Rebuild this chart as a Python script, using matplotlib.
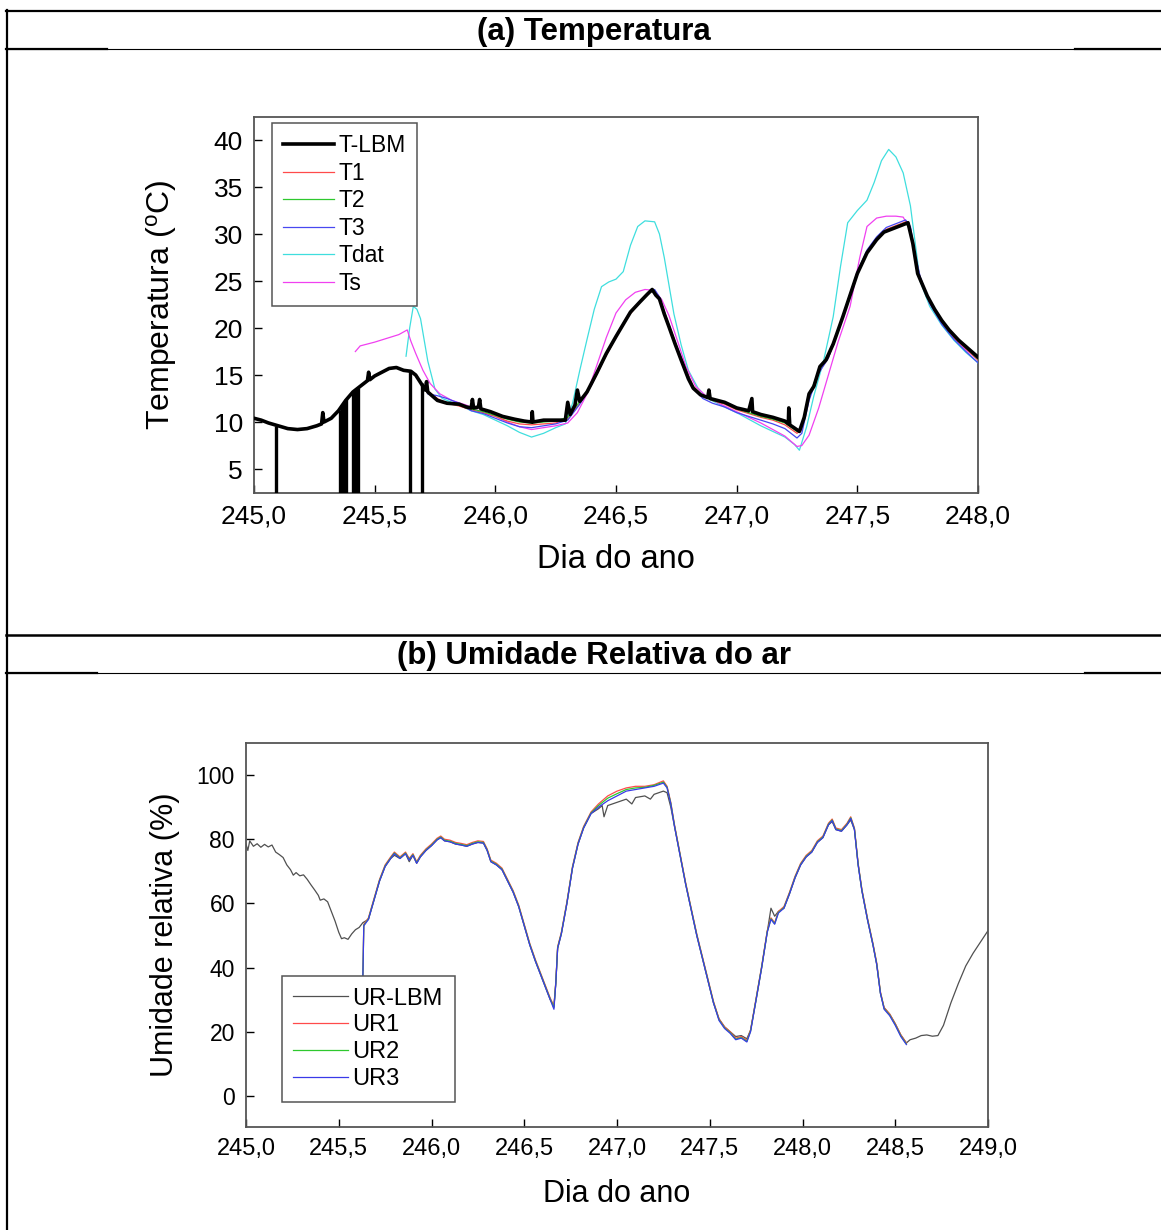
import matplotlib
matplotlib.use('Agg')
import matplotlib.pyplot as plt
from matplotlib.lines import Line2D
from matplotlib.ticker import FuncFormatter, MultipleLocator

plt.rcParams['font.family'] = ['Liberation Sans', 'DejaVu Sans']
plt.rcParams['mathtext.fontset'] = 'custom'
plt.rcParams['mathtext.rm'] = 'Liberation Sans'

# ── (a) Temperatura ──────────────────────────────────────────────
days_lbm = [245.00, 245.03, 245.06, 245.10, 245.14, 245.18, 245.22, 245.26, 245.28, 245.285,
            245.29, 245.32, 245.35, 245.38, 245.41, 245.44, 245.47, 245.475, 245.48, 245.50,
            245.53, 245.56, 245.59, 245.62, 245.65, 245.67, 245.69, 245.71, 245.715, 245.72,
            245.76, 245.80, 245.85, 245.88, 245.90, 245.905, 245.91, 245.93, 245.935, 245.94,
            245.98, 246.03, 246.08, 246.12, 246.15, 246.153, 246.156, 246.20, 246.25, 246.29,
            246.30, 246.31, 246.33, 246.34, 246.35, 246.38, 246.42, 246.46, 246.50, 246.53,
            246.56, 246.60, 246.63, 246.65, 246.665, 246.68, 246.70, 246.72, 246.745, 246.77,
            246.80, 246.82, 246.85, 246.88, 246.885, 246.89, 246.95, 247.00, 247.05, 247.063,
            247.066, 247.10, 247.15, 247.20, 247.214, 247.216, 247.22, 247.26, 247.28, 247.30,
            247.32, 247.345, 247.37, 247.40, 247.44, 247.47, 247.50, 247.54, 247.58, 247.61,
            247.65, 247.69, 247.71, 247.73, 247.75, 247.77, 247.79, 247.82, 247.85, 247.88,
            247.92, 247.96, 248.00]
temp_lbm = [10.4, 10.2, 9.9, 9.6, 9.3, 9.2, 9.3, 9.6, 9.8, 11.0,
            10.0, 10.4, 11.2, 12.3, 13.2, 13.8, 14.4, 15.3, 14.5, 14.9,
            15.3, 15.7, 15.8, 15.5, 15.4, 15.0, 14.2, 13.4, 14.3, 13.2,
            12.3, 12.0, 11.9, 11.6, 11.5, 12.4, 11.5, 11.6, 12.4, 11.4,
            11.1, 10.6, 10.3, 10.1, 10.0, 11.1, 10.0, 10.2, 10.2, 10.2,
            12.1, 10.8, 11.8, 13.4, 12.2, 13.2, 15.2, 17.3, 19.1, 20.4,
            21.7, 22.8, 23.6, 24.1, 23.5, 23.1, 21.5, 20.1, 18.3, 16.6,
            14.6, 13.6, 12.9, 12.6, 13.4, 12.5, 12.1, 11.5, 11.2, 12.5,
            11.1, 10.8, 10.5, 10.1, 9.8, 11.5, 9.7, 9.0, 10.5, 13.0,
            13.8, 15.9, 16.6, 18.3, 21.2, 23.5, 25.8, 28.0, 29.4, 30.2,
            30.6, 31.0, 31.2, 29.0, 25.8, 24.6, 23.4, 22.0, 20.8, 19.8,
            18.7, 17.8, 16.9]

# quedas do T-LBM (falhas de leitura que descem abaixo do eixo)
spike_days = [245.093, 245.355, 245.365, 245.375, 245.382, 245.41, 245.42, 245.43, 245.645, 245.695]
spike_top = [9.6, 11.3, 11.8, 12.2, 12.4, 13.2, 13.4, 13.6, 15.4, 14.1]

days_t = [245.72, 245.76, 245.80, 245.85, 245.90, 245.95, 246.00, 246.05, 246.10, 246.15,
          246.20, 246.25, 246.30, 246.35, 246.40, 246.45, 246.50, 246.55, 246.60, 246.64,
          246.66, 246.68, 246.70, 246.72, 246.75, 246.78, 246.82, 246.86, 246.90, 246.95,
          247.00, 247.05, 247.10, 247.15, 247.20, 247.25, 247.27, 247.30, 247.34, 247.38,
          247.42, 247.46, 247.50, 247.54, 247.58, 247.62, 247.66, 247.70, 247.72, 247.74,
          247.76, 247.80, 247.85, 247.90, 247.95, 248.00]
temp_t1 = [13.3, 12.5, 12.0, 11.7, 11.3, 11.0, 10.6, 10.1, 9.8, 9.7,
           9.8, 9.9, 10.3, 12.0, 14.0, 16.6, 19.0, 21.2, 22.8, 23.8,
           24.0, 23.2, 21.7, 20.3, 18.1, 16.2, 13.8, 12.8, 12.3, 11.9,
           11.3, 10.9, 10.5, 10.2, 9.7, 8.8, 9.2, 12.6, 15.3, 16.8,
           19.6, 22.7, 25.7, 28.0, 29.5, 30.5, 30.9, 31.3, 30.6, 27.6,
           25.4, 22.7, 20.6, 19.0, 17.8, 16.6]
temp_t2 = [13.2, 12.4, 12.0, 11.8, 11.4, 11.1, 10.7, 10.3, 10.0, 9.9,
           10.0, 10.1, 10.5, 12.2, 14.1, 16.7, 19.0, 21.3, 22.8, 23.8,
           24.0, 23.1, 21.6, 20.2, 18.0, 16.1, 13.7, 12.8, 12.3, 12.0,
           11.4, 11.0, 10.6, 10.3, 9.9, 9.0, 9.4, 12.8, 15.4, 16.9,
           19.7, 22.7, 25.7, 28.0, 29.4, 30.4, 30.8, 31.2, 30.4, 27.4,
           25.3, 22.7, 20.7, 19.1, 17.9, 16.7]
temp_t3 = [13.0, 12.8, 12.5, 12.0, 11.2, 10.9, 10.4, 9.9, 9.5, 9.4,
           9.6, 9.8, 10.2, 11.9, 14.0, 16.7, 19.2, 21.4, 22.9, 23.9,
           24.1, 23.3, 21.8, 20.3, 18.2, 16.2, 13.6, 12.5, 12.0, 11.6,
           11.0, 10.6, 10.2, 9.8, 9.3, 8.3, 8.8, 12.3, 15.2, 16.8,
           19.8, 22.9, 26.0, 28.3, 29.7, 30.7, 31.1, 31.5, 30.8, 27.8,
           25.5, 22.6, 20.4, 18.8, 17.5, 16.3]

days_tdat = [245.63, 245.645, 245.66, 245.675, 245.69, 245.72, 245.75, 245.78, 245.85, 245.90,
             245.95, 246.00, 246.05, 246.10, 246.15, 246.20, 246.25, 246.29, 246.32, 246.35,
             246.38, 246.41, 246.44, 246.47, 246.50, 246.53, 246.56, 246.59, 246.62, 246.66,
             246.68, 246.70, 246.72, 246.74, 246.77, 246.80, 246.84, 246.88, 246.95, 247.00,
             247.05, 247.10, 247.15, 247.20, 247.24, 247.26, 247.29, 247.32, 247.36, 247.40,
             247.43, 247.46, 247.50, 247.54, 247.57, 247.60, 247.63, 247.66, 247.69, 247.72,
             247.74, 247.76, 247.80, 247.85, 247.90, 247.95, 248.00]
temp_tdat = [17.0, 20.0, 22.3, 22.0, 21.0, 16.5, 13.5, 12.5, 11.8, 11.2,
             10.8, 10.2, 9.6, 8.9, 8.4, 8.8, 9.4, 9.8, 12.0, 15.5,
             18.8, 22.0, 24.4, 24.9, 25.2, 26.0, 28.8, 30.8, 31.4, 31.3,
             30.0, 27.5, 24.5, 21.5, 18.2, 15.5, 13.6, 12.5, 11.6, 11.0,
             10.3, 9.6, 9.0, 8.4, 7.6, 7.0, 9.5, 12.8, 16.5, 21.2,
             26.5, 31.2, 32.5, 33.6, 35.5, 37.8, 39.0, 38.2, 36.5, 33.0,
             29.0, 25.0, 22.3, 20.3, 18.7, 17.4, 16.3]

days_ts = [245.42, 245.44, 245.47, 245.50, 245.55, 245.60, 245.635, 245.65, 245.67, 245.70,
           245.73, 245.77, 245.82, 245.88, 245.95, 246.00, 246.05, 246.10, 246.15, 246.20,
           246.25, 246.30, 246.34, 246.38, 246.42, 246.46, 246.50, 246.54, 246.58, 246.62,
           246.66, 246.69, 246.72, 246.75, 246.79, 246.83, 246.88, 246.95, 247.00, 247.05,
           247.10, 247.15, 247.20, 247.25, 247.27, 247.30, 247.34, 247.38, 247.42, 247.47,
           247.51, 247.54, 247.58, 247.62, 247.66, 247.69, 247.72, 247.74, 247.76, 247.80,
           247.85, 247.90, 247.95, 248.00]
temp_ts = [17.5, 18.1, 18.3, 18.5, 18.9, 19.3, 19.8, 18.6, 17.3, 15.5,
           14.1, 13.0, 12.3, 11.8, 11.0, 10.6, 10.0, 9.5, 9.2, 9.4,
           9.6, 9.9, 11.0, 13.0, 16.0, 19.0, 21.6, 23.0, 23.8, 24.1,
           24.0, 23.0, 21.3, 19.0, 15.9, 13.8, 12.6, 11.7, 11.1, 10.5,
           9.9, 9.2, 8.5, 7.4, 7.5, 8.6, 11.5, 15.0, 18.5, 22.3,
           27.5, 30.8, 31.7, 31.9, 31.9, 31.8, 30.4, 27.5, 25.2, 22.6,
           20.6, 19.0, 17.7, 16.6]

temp_labels = ['T-LBM', 'T1', 'T2', 'T3', 'Tdat', 'Ts']

# ── (b) Umidade relativa ─────────────────────────────────────────
days_ur_lbm = [245.00, 245.01, 245.02, 245.04, 245.06, 245.08, 245.10, 245.12, 245.14, 245.16,
               245.18, 245.20, 245.22, 245.24, 245.255, 245.27, 245.29, 245.31, 245.33, 245.35,
               245.37, 245.39, 245.40, 245.42, 245.44, 245.46, 245.48, 245.50, 245.515, 245.53,
               245.55, 245.57, 245.59, 245.61, 245.63, 245.66, 245.69, 245.72, 245.75, 245.78,
               245.80, 245.83, 245.86, 245.88, 245.90, 245.92, 245.94, 245.97, 246.00, 246.03,
               246.05, 246.07, 246.10, 246.13, 246.16, 246.19, 246.22, 246.25, 246.28, 246.30,
               246.32, 246.35, 246.38, 246.41, 246.44, 246.47, 246.50, 246.53, 246.56, 246.59,
               246.62, 246.64, 246.66, 246.67, 246.68, 246.70, 246.73, 246.76, 246.79, 246.82,
               246.86, 246.90, 246.92, 246.93, 246.95, 247.00, 247.05, 247.08, 247.10, 247.15,
               247.18, 247.20, 247.25, 247.27, 247.29, 247.31, 247.34, 247.37, 247.40, 247.43,
               247.46, 247.49, 247.52, 247.55, 247.58, 247.61, 247.64, 247.67, 247.70, 247.72,
               247.75, 247.78, 247.81, 247.83, 247.85, 247.87, 247.90, 247.93, 247.96, 247.99,
               248.02, 248.05, 248.08, 248.11, 248.14, 248.16, 248.18, 248.21, 248.24, 248.26,
               248.28, 248.30, 248.32, 248.35, 248.38, 248.40, 248.42, 248.44, 248.47, 248.50,
               248.53, 248.56, 248.58, 248.61, 248.64, 248.67, 248.70, 248.73, 248.76, 248.80,
               248.84, 248.88, 248.92, 248.96, 249.00]
rh_lbm = [78.5, 76.5, 79.5, 77.8, 78.6, 77.5, 78.4, 77.6, 78.2, 76.0,
          75.2, 74.3, 72.0, 70.5, 68.8, 69.6, 68.6, 68.9, 67.5, 65.8,
          64.2, 62.5, 61.0, 61.4, 60.5, 57.5, 54.5, 51.0, 49.0, 49.3,
          48.8, 50.5, 51.8, 52.5, 54.0, 55.0, 61.0, 67.0, 71.5, 74.0,
          75.0, 74.0, 75.5, 73.0, 75.0, 72.5, 74.5, 76.5, 78.0, 79.8,
          80.5, 79.5, 79.2, 78.5, 78.2, 77.8, 78.5, 79.0, 78.8, 76.5,
          73.0, 72.0, 70.5, 67.0, 63.5, 59.0, 53.0, 47.0, 42.0, 37.5,
          33.0, 30.0, 28.0, 35.0, 46.0, 50.5, 60.0, 71.0, 78.5, 83.5,
          88.0, 89.5, 90.5, 87.0, 90.5, 91.5, 92.5, 91.0, 93.0, 93.5,
          92.5, 94.0, 95.0, 94.5, 90.0, 84.0, 75.0, 66.0, 58.0, 50.0,
          43.0, 36.0, 29.0, 24.0, 21.5, 20.0, 18.5, 18.8, 17.8, 20.5,
          30.0, 40.0, 51.0, 58.5, 56.0, 57.5, 58.5, 63.0, 68.0, 72.0,
          74.5, 76.0, 79.0, 80.5, 84.5, 85.5, 83.0, 82.5, 84.5, 86.0,
          83.0, 72.0, 64.0, 55.0, 47.0, 41.0, 32.0, 27.5, 25.5, 22.5,
          19.0, 16.5, 17.5, 18.0, 18.8, 19.0, 18.6, 18.8, 22.0, 29.0,
          35.0, 40.5, 44.5, 48.0, 51.5]

days_ur = [245.630, 245.635, 245.66, 245.69, 245.72, 245.75, 245.78, 245.80, 245.83, 245.86,
           245.88, 245.90, 245.92, 245.94, 245.97, 246.00, 246.03, 246.05, 246.07, 246.10,
           246.13, 246.16, 246.19, 246.22, 246.25, 246.28, 246.30, 246.32, 246.35, 246.38,
           246.41, 246.44, 246.47, 246.50, 246.53, 246.56, 246.59, 246.62, 246.64, 246.66,
           246.67, 246.68, 246.70, 246.73, 246.76, 246.79, 246.82, 246.86, 246.90, 246.95,
           247.00, 247.05, 247.10, 247.15, 247.20, 247.25, 247.27, 247.29, 247.31, 247.34,
           247.37, 247.40, 247.43, 247.46, 247.49, 247.52, 247.55, 247.58, 247.61, 247.64,
           247.67, 247.70, 247.72, 247.75, 247.78, 247.81, 247.83, 247.85, 247.87, 247.90,
           247.93, 247.96, 247.99, 248.02, 248.05, 248.08, 248.11, 248.14, 248.16, 248.18,
           248.21, 248.24, 248.26, 248.28, 248.30, 248.32, 248.35, 248.38, 248.40, 248.42,
           248.44, 248.47, 248.50, 248.53, 248.56]
rh_ur1 = [37.0, 53.5, 55.5, 61.5, 67.5, 72.0, 74.5, 76.0, 74.5, 76.0,
          74.0, 75.5, 73.0, 75.0, 77.0, 78.5, 80.3, 81.0, 80.0, 79.7,
          79.0, 78.7, 78.3, 79.0, 79.5, 79.3, 77.0, 73.5, 72.5, 71.0,
          67.5, 64.0, 59.5, 53.5, 47.5, 42.5, 38.0, 33.5, 30.5, 28.0,
          35.5, 46.5, 51.0, 60.5, 71.5, 79.0, 84.0, 88.5, 91.0, 93.5,
          95.0, 96.0, 96.5, 96.5, 97.0, 98.2, 96.5, 91.5, 84.5, 75.5,
          66.5, 58.5, 50.5, 43.5, 36.5, 29.5, 24.0, 21.5, 20.0, 18.0,
          18.5, 17.3, 20.5, 30.5, 40.5, 51.5, 55.5, 54.0, 57.5, 59.0,
          63.5, 68.5, 72.5, 75.0, 76.5, 79.5, 81.0, 85.0, 86.3, 83.5,
          83.0, 85.0, 87.0, 83.5, 72.5, 64.5, 55.5, 47.5, 41.5, 32.5,
          27.5, 25.5, 22.5, 19.0, 16.5]
rh_ur2 = [37.0, 53.2, 55.2, 61.2, 67.2, 71.7, 74.2, 75.7, 74.2, 75.7,
          73.7, 75.2, 72.7, 74.7, 76.7, 78.2, 80.0, 80.7, 79.7, 79.4,
          78.7, 78.4, 78.0, 78.7, 79.2, 79.0, 76.7, 73.2, 72.2, 70.7,
          67.2, 63.7, 59.2, 53.2, 47.2, 42.2, 37.7, 33.2, 30.2, 27.5,
          35.2, 46.2, 50.7, 60.2, 71.2, 78.7, 83.7, 88.2, 90.5, 92.8,
          94.2, 95.5, 96.0, 96.2, 96.8, 97.8, 96.2, 91.2, 84.2, 75.2,
          66.2, 58.2, 50.2, 43.2, 36.2, 29.2, 23.7, 21.2, 19.7, 17.7,
          18.2, 17.0, 20.2, 30.2, 40.2, 51.2, 55.2, 53.7, 57.2, 58.7,
          63.2, 68.2, 72.2, 74.7, 76.2, 79.2, 80.7, 84.7, 86.0, 83.2,
          82.7, 84.7, 86.7, 83.2, 72.2, 64.2, 55.2, 47.2, 41.2, 32.2,
          27.2, 25.2, 22.2, 18.7, 16.2]
rh_ur3 = [37.0, 53.0, 55.0, 61.0, 67.0, 71.5, 74.0, 75.5, 74.0, 75.5,
          73.5, 75.0, 72.5, 74.5, 76.5, 78.0, 79.8, 80.5, 79.5, 79.2,
          78.5, 78.2, 77.8, 78.5, 79.0, 78.8, 76.5, 73.0, 72.0, 70.5,
          67.0, 63.5, 59.0, 53.0, 47.0, 42.0, 37.5, 33.0, 30.0, 27.0,
          35.0, 46.0, 50.5, 60.0, 71.0, 78.5, 83.5, 88.0, 90.0, 92.0,
          93.5, 95.0, 95.5, 96.0, 96.5, 97.5, 96.0, 91.0, 84.0, 75.0,
          66.0, 58.0, 50.0, 43.0, 36.0, 29.0, 23.5, 21.0, 19.5, 17.5,
          18.0, 16.8, 20.0, 30.0, 40.0, 51.0, 55.0, 53.5, 57.0, 58.5,
          63.0, 68.0, 72.0, 74.5, 76.0, 79.0, 80.5, 84.5, 85.8, 83.0,
          82.5, 84.5, 86.5, 83.0, 72.0, 64.0, 55.0, 47.0, 41.0, 32.0,
          27.0, 25.0, 22.0, 18.5, 16.0]

rh_labels = ['UR-LBM', 'UR1', 'UR2', 'UR3']

W, H = 1161, 1230
fig = plt.figure(figsize=(W / 100, H / 100), dpi=100)


def px(x, y):
    return x / W, 1 - y / H


def hline(y, x0, x1, lw):
    (a, b), (c, d) = px(x0, y), px(x1, y)
    fig.add_artist(Line2D([a, c], [b, d], transform=fig.transFigure, color='black', lw=lw))


# moldura de tabela
hline(11, 6, W, 1.6)
hline(48.5, 6, W, 0.8)
hline(48.5, 6, 107, 1.6)
hline(48.5, 1075, W, 1.6)
hline(635, 6, W, 1.8)
hline(673, 6, W, 0.8)
hline(673, 6, 97, 1.6)
hline(673, 1085, W, 1.6)
(a, b), (c, d) = px(7, 10), px(7, H)
fig.add_artist(Line2D([a, c], [b, d], transform=fig.transFigure, color='black', lw=1.6))

fig.text(*px(594, 32), '(a) Temperatura', ha='center', va='center', fontsize=22.5, fontweight='bold')
fig.text(*px(594, 656), '(b) Umidade Relativa do ar', ha='center', va='center', fontsize=22.5, fontweight='bold')

comma = FuncFormatter(lambda v, p: f'{v:.1f}'.replace('.', ','))


def style_axes(ax, tick_fs):
    for s in ax.spines.values():
        s.set_color('#555555')
        s.set_linewidth(1.3)
    ax.tick_params(direction='in', length=6, width=1.0, color='black', labelsize=tick_fs, pad=8)
    ax.tick_params(top=False, right=False)
    ax.xaxis.set_major_locator(MultipleLocator(0.5))
    ax.xaxis.set_major_formatter(comma)


# ── painel (a)
ax1 = fig.add_axes([254 / W, 1 - 493 / H, 724 / W, 376 / H])
ax1.plot(days_lbm, temp_lbm, color='black', lw=2.6, label=temp_labels[0], zorder=6)
ax1.vlines(spike_days, 0, spike_top, color='black', lw=2.4, zorder=6)
ax1.plot(days_t, temp_t1, color='#ff4a4a', lw=0.9, label=temp_labels[1], zorder=4)
ax1.plot(days_t, temp_t2, color='#2ec82e', lw=0.9, label=temp_labels[2], zorder=4)
ax1.plot(days_t, temp_t3, color='#4848f0', lw=0.9, label=temp_labels[3], zorder=5)
ax1.plot(days_tdat, temp_tdat, color='#3fdede', lw=0.9, label=temp_labels[4], zorder=3)
ax1.plot(days_ts, temp_ts, color='#f040f0', lw=0.9, label=temp_labels[5], zorder=3)
ax1.set_xlim(245, 248)
ax1.set_ylim(2.45, 42.45)
ax1.set_yticks([5, 10, 15, 20, 25, 30, 35, 40])
style_axes(ax1, 19)
ax1.set_ylabel(r'Temperatura ($\mathregular{^o}$C)', fontsize=23)
ax1.yaxis.set_label_coords(-0.103, 0.5)
ax1.set_xlabel('Dia do ano', fontsize=23.5)
ax1.xaxis.set_label_coords(0.5, -0.135)
leg1 = ax1.legend(loc='upper left', bbox_to_anchor=(0.0245, 0.985), borderaxespad=0,
                  fontsize=16.5, labelspacing=0.2, handlelength=2.2, handletextpad=0.2,
                  borderpad=0.5, fancybox=False, framealpha=1, edgecolor='#555555')
leg1.get_frame().set_linewidth(1.1)

# ── painel (b)
ax2 = fig.add_axes([246 / W, 1 - 1127 / H, 742 / W, 384 / H])
ax2.plot(days_ur_lbm, rh_lbm, color='#505050', lw=0.9, label=rh_labels[0])
ax2.plot(days_ur, rh_ur1, color='#ff4a4a', lw=0.9, label=rh_labels[1])
ax2.plot(days_ur, rh_ur2, color='#2ec82e', lw=0.9, label=rh_labels[2])
ax2.plot(days_ur, rh_ur3, color='#3a3ae8', lw=0.9, label=rh_labels[3])
ax2.set_xlim(245, 249)
ax2.set_ylim(-9.7, 110)
ax2.set_yticks([0, 20, 40, 60, 80, 100])
style_axes(ax2, 17)
ax2.tick_params(axis='y', labelsize=16.5)
ax2.set_ylabel('Umidade relativa (%)', fontsize=22)
ax2.yaxis.set_label_coords(-0.089, 0.5)
ax2.set_xlabel('Dia do ano', fontsize=22)
ax2.xaxis.set_label_coords(0.5, -0.135)
leg2 = ax2.legend(loc='lower left', bbox_to_anchor=(0.048, 0.066), borderaxespad=0,
                  fontsize=17, labelspacing=0.2, handlelength=2.3, handletextpad=0.2,
                  borderpad=0.5, fancybox=False, framealpha=1, edgecolor='#555555')
leg2.get_frame().set_linewidth(1.1)

fig.savefig('out.png', dpi=100)
